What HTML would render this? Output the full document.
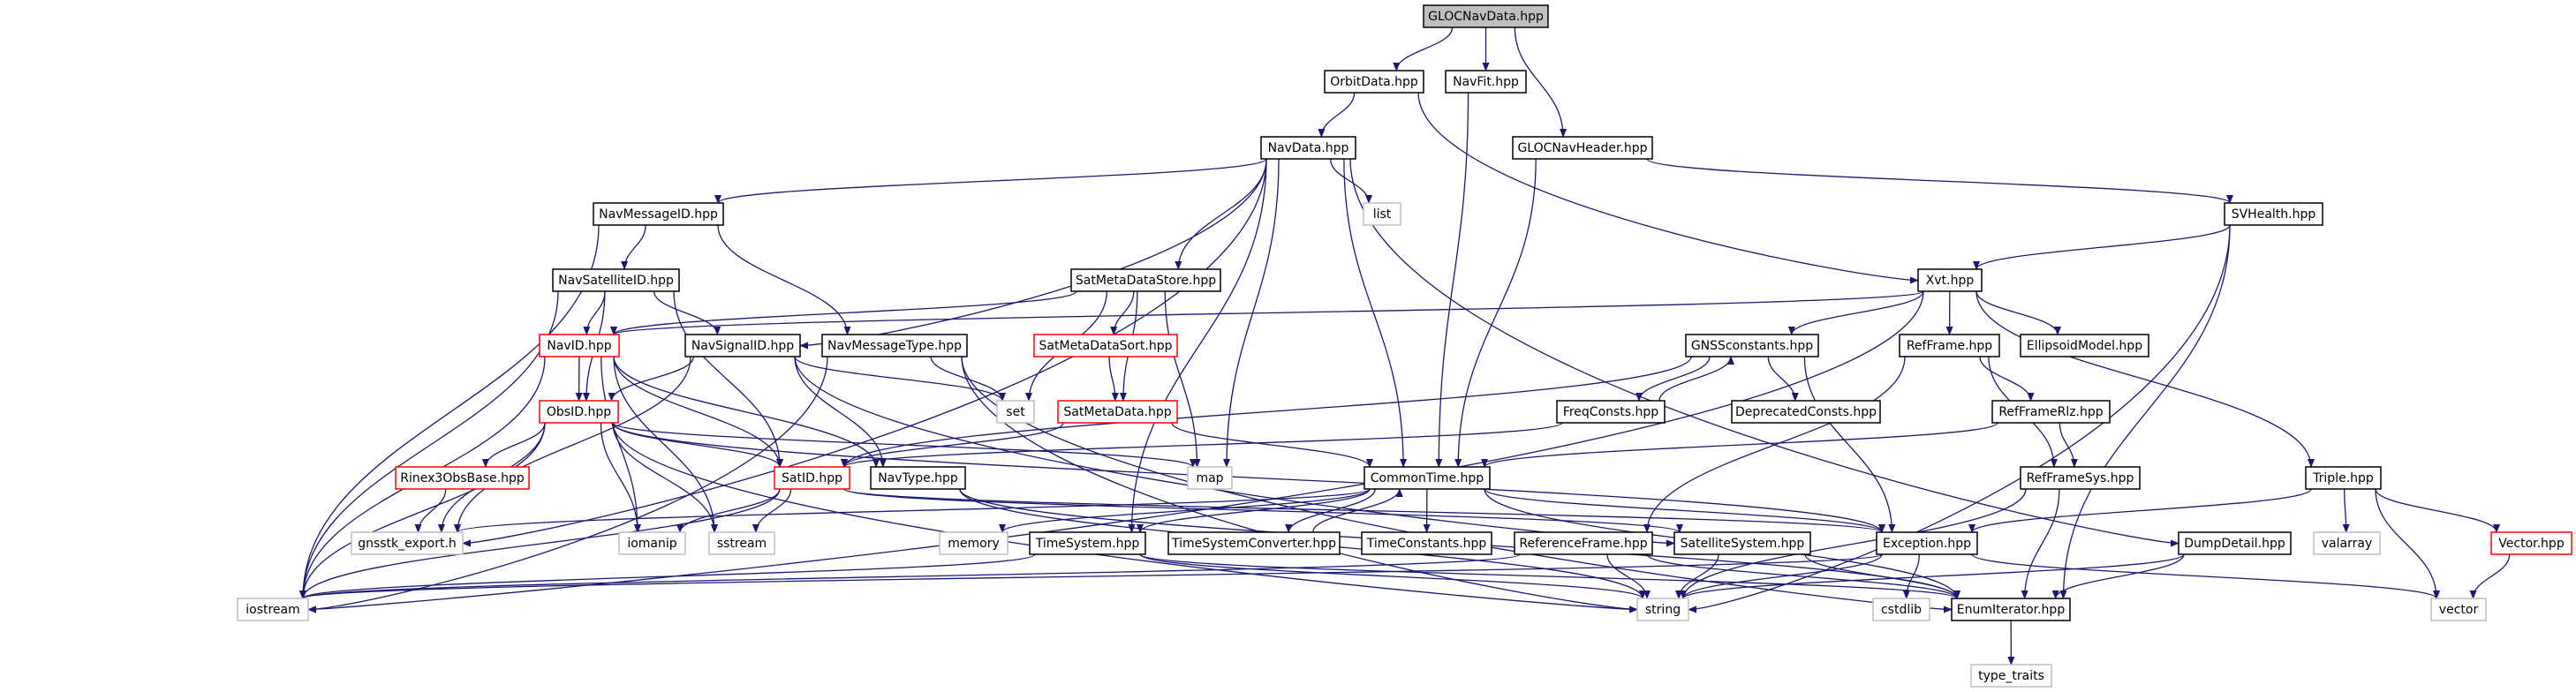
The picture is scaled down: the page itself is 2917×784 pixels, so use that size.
<!DOCTYPE html>
<html><head><meta charset="utf-8"><style>
html,body{margin:0;padding:0;background:#fff;}
svg{display:block;}
text{font-family:"DejaVu Sans","Liberation Sans",sans-serif;font-size:14px;fill:#000;}
</style></head><body>
<svg id="g" width="2917" height="784" viewBox="0 0 2917 784" xmlns="http://www.w3.org/2000/svg">
<defs><marker id="ah" markerWidth="10" markerHeight="8" refX="9" refY="4" orient="auto" markerUnits="userSpaceOnUse"><path d="M0,0 L10,4 L0,8 Z" fill="#191970"/></marker></defs>
<g id="edges" fill="none" stroke="#191970" stroke-width="1.3"></g>
<g id="nodes">
<rect x="1612" y="6" width="141" height="25" fill="#bfbfbf" stroke="#000" stroke-width="1.5"/><text x="1682.5" y="23" text-anchor="middle">GLOCNavData.hpp</text>
<rect x="1500" y="80" width="112" height="25" fill="#fff" stroke="#000" stroke-width="1.5"/><text x="1556" y="97" text-anchor="middle">OrbitData.hpp</text>
<rect x="1637" y="80" width="91" height="25" fill="#fff" stroke="#000" stroke-width="1.5"/><text x="1682.5" y="97" text-anchor="middle">NavFit.hpp</text>
<rect x="1428" y="155" width="107" height="25" fill="#fff" stroke="#000" stroke-width="1.5"/><text x="1481.5" y="172" text-anchor="middle">NavData.hpp</text>
<rect x="1713" y="155" width="158" height="25" fill="#fff" stroke="#000" stroke-width="1.5"/><text x="1792" y="172" text-anchor="middle">GLOCNavHeader.hpp</text>
<rect x="672" y="230" width="147" height="25" fill="#fff" stroke="#000" stroke-width="1.5"/><text x="745.5" y="247" text-anchor="middle">NavMessageID.hpp</text>
<rect x="1544" y="230" width="42" height="25" fill="#fff" stroke="#bfbfbf" stroke-width="1.5"/><text x="1565" y="247" text-anchor="middle" style="fill:#000">list</text>
<rect x="2519" y="230" width="111" height="25" fill="#fff" stroke="#000" stroke-width="1.5"/><text x="2574.5" y="247" text-anchor="middle">SVHealth.hpp</text>
<rect x="626" y="305" width="143" height="25" fill="#fff" stroke="#000" stroke-width="1.5"/><text x="697.5" y="322" text-anchor="middle">NavSatelliteID.hpp</text>
<rect x="1213" y="305" width="169" height="25" fill="#fff" stroke="#000" stroke-width="1.5"/><text x="1297.5" y="322" text-anchor="middle">SatMetaDataStore.hpp</text>
<rect x="2172" y="305" width="72" height="25" fill="#fff" stroke="#000" stroke-width="1.5"/><text x="2208" y="322" text-anchor="middle">Xvt.hpp</text>
<rect x="611" y="379" width="90" height="25" fill="#fff" stroke="#ff0000" stroke-width="1.5"/><text x="656" y="396" text-anchor="middle">NavID.hpp</text>
<rect x="776" y="379" width="130" height="25" fill="#fff" stroke="#000" stroke-width="1.5"/><text x="841" y="396" text-anchor="middle">NavSignalID.hpp</text>
<rect x="931" y="379" width="164" height="25" fill="#fff" stroke="#000" stroke-width="1.5"/><text x="1013" y="396" text-anchor="middle">NavMessageType.hpp</text>
<rect x="1171" y="379" width="162" height="25" fill="#fff" stroke="#ff0000" stroke-width="1.5"/><text x="1252" y="396" text-anchor="middle">SatMetaDataSort.hpp</text>
<rect x="1909" y="379" width="150" height="25" fill="#fff" stroke="#000" stroke-width="1.5"/><text x="1984" y="396" text-anchor="middle">GNSSconstants.hpp</text>
<rect x="2151" y="379" width="113" height="25" fill="#fff" stroke="#000" stroke-width="1.5"/><text x="2207.5" y="396" text-anchor="middle">RefFrame.hpp</text>
<rect x="2288" y="379" width="145" height="25" fill="#fff" stroke="#000" stroke-width="1.5"/><text x="2360.5" y="396" text-anchor="middle">EllipsoidModel.hpp</text>
<rect x="611" y="454" width="89" height="25" fill="#fff" stroke="#ff0000" stroke-width="1.5"/><text x="655.5" y="471" text-anchor="middle">ObsID.hpp</text>
<rect x="1129" y="454" width="42" height="25" fill="#fff" stroke="#bfbfbf" stroke-width="1.5"/><text x="1150" y="471" text-anchor="middle">set</text>
<rect x="1198" y="454" width="135" height="25" fill="#fff" stroke="#ff0000" stroke-width="1.5"/><text x="1265.5" y="471" text-anchor="middle">SatMetaData.hpp</text>
<rect x="1763" y="454" width="122" height="25" fill="#fff" stroke="#000" stroke-width="1.5"/><text x="1824" y="471" text-anchor="middle">FreqConsts.hpp</text>
<rect x="1961" y="454" width="168" height="25" fill="#fff" stroke="#000" stroke-width="1.5"/><text x="2045" y="471" text-anchor="middle">DeprecatedConsts.hpp</text>
<rect x="2256" y="454" width="133" height="25" fill="#fff" stroke="#000" stroke-width="1.5"/><text x="2322.5" y="471" text-anchor="middle">RefFrameRlz.hpp</text>
<rect x="448" y="529" width="151" height="25" fill="#fff" stroke="#ff0000" stroke-width="1.5"/><text x="523.5" y="546" text-anchor="middle">Rinex3ObsBase.hpp</text>
<rect x="877" y="529" width="85" height="25" fill="#fff" stroke="#ff0000" stroke-width="1.5"/><text x="919.5" y="546" text-anchor="middle">SatID.hpp</text>
<rect x="986" y="529" width="107" height="25" fill="#fff" stroke="#000" stroke-width="1.5"/><text x="1039.5" y="546" text-anchor="middle">NavType.hpp</text>
<rect x="1345" y="529" width="50" height="25" fill="#fff" stroke="#bfbfbf" stroke-width="1.5"/><text x="1370" y="546" text-anchor="middle">map</text>
<rect x="1545" y="529" width="142" height="25" fill="#fff" stroke="#000" stroke-width="1.5"/><text x="1616" y="546" text-anchor="middle">CommonTime.hpp</text>
<rect x="2288" y="529" width="135" height="25" fill="#fff" stroke="#000" stroke-width="1.5"/><text x="2355.5" y="546" text-anchor="middle">RefFrameSys.hpp</text>
<rect x="2611" y="529" width="85" height="25" fill="#fff" stroke="#000" stroke-width="1.5"/><text x="2653.5" y="546" text-anchor="middle">Triple.hpp</text>
<rect x="398" y="603" width="126" height="25" fill="#fff" stroke="#bfbfbf" stroke-width="1.5"/><text x="461" y="620" text-anchor="middle">gnsstk_export.h</text>
<rect x="701" y="603" width="75" height="25" fill="#fff" stroke="#bfbfbf" stroke-width="1.5"/><text x="738.5" y="620" text-anchor="middle">iomanip</text>
<rect x="803" y="603" width="74" height="25" fill="#fff" stroke="#bfbfbf" stroke-width="1.5"/><text x="840" y="620" text-anchor="middle">sstream</text>
<rect x="1064" y="603" width="77" height="25" fill="#fff" stroke="#bfbfbf" stroke-width="1.5"/><text x="1102.5" y="620" text-anchor="middle">memory</text>
<rect x="1166" y="603" width="131" height="25" fill="#fff" stroke="#000" stroke-width="1.5"/><text x="1231.5" y="620" text-anchor="middle">TimeSystem.hpp</text>
<rect x="1323" y="603" width="194" height="25" fill="#fff" stroke="#000" stroke-width="1.5"/><text x="1420" y="620" text-anchor="middle">TimeSystemConverter.hpp</text>
<rect x="1542" y="603" width="147" height="25" fill="#fff" stroke="#000" stroke-width="1.5"/><text x="1615.5" y="620" text-anchor="middle">TimeConstants.hpp</text>
<rect x="1715" y="603" width="156" height="25" fill="#fff" stroke="#000" stroke-width="1.5"/><text x="1793" y="620" text-anchor="middle">ReferenceFrame.hpp</text>
<rect x="1896" y="603" width="154" height="25" fill="#fff" stroke="#000" stroke-width="1.5"/><text x="1973" y="620" text-anchor="middle">SatelliteSystem.hpp</text>
<rect x="2125" y="603" width="114" height="25" fill="#fff" stroke="#000" stroke-width="1.5"/><text x="2182" y="620" text-anchor="middle">Exception.hpp</text>
<rect x="2467" y="603" width="127" height="25" fill="#fff" stroke="#000" stroke-width="1.5"/><text x="2530.5" y="620" text-anchor="middle">DumpDetail.hpp</text>
<rect x="2620" y="603" width="75" height="25" fill="#fff" stroke="#bfbfbf" stroke-width="1.5"/><text x="2657.5" y="620" text-anchor="middle">valarray</text>
<rect x="2821" y="603" width="91" height="25" fill="#fff" stroke="#ff0000" stroke-width="1.5"/><text x="2866.5" y="620" text-anchor="middle">Vector.hpp</text>
<rect x="269" y="678" width="80" height="25" fill="#fff" stroke="#bfbfbf" stroke-width="1.5"/><text x="309" y="695" text-anchor="middle">iostream</text>
<rect x="1854" y="678" width="58" height="25" fill="#fff" stroke="#bfbfbf" stroke-width="1.5"/><text x="1883" y="695" text-anchor="middle">string</text>
<rect x="2121" y="678" width="64" height="25" fill="#fff" stroke="#bfbfbf" stroke-width="1.5"/><text x="2153" y="695" text-anchor="middle">cstdlib</text>
<rect x="2210" y="678" width="134" height="25" fill="#fff" stroke="#000" stroke-width="1.5"/><text x="2277" y="695" text-anchor="middle">EnumIterator.hpp</text>
<rect x="2753" y="678" width="62" height="25" fill="#fff" stroke="#bfbfbf" stroke-width="1.5"/><text x="2784" y="695" text-anchor="middle">vector</text>
<rect x="2232" y="753" width="91" height="25" fill="#fff" stroke="#bfbfbf" stroke-width="1.5"/><text x="2277.5" y="770" text-anchor="middle">type_traits</text>
</g>
</svg>
<script>
var N={};
document.querySelectorAll('#nodes rect').forEach(function(r){
  var t=r.nextElementSibling.textContent;
  var x=+r.getAttribute('x'),y=+r.getAttribute('y'),w=+r.getAttribute('width'),h=+r.getAttribute('height');
  N[t]={x:x,y:y,w:w,h:h,cx:x+w/2,cy:y+h/2};
});
var E=[
["GLOCNavData.hpp","OrbitData.hpp"],["GLOCNavData.hpp","NavFit.hpp"],["GLOCNavData.hpp","GLOCNavHeader.hpp"],
["OrbitData.hpp","NavData.hpp"],["OrbitData.hpp","Xvt.hpp"],["NavFit.hpp","CommonTime.hpp"],
["GLOCNavHeader.hpp","CommonTime.hpp"],["GLOCNavHeader.hpp","SVHealth.hpp"],
["NavData.hpp","NavMessageID.hpp"],["NavData.hpp","gnsstk_export.h"],["NavData.hpp","NavSignalID.hpp"],["NavData.hpp","SatMetaDataStore.hpp"],["NavData.hpp","list"],["NavData.hpp","map"],["NavData.hpp","CommonTime.hpp"],["NavData.hpp","TimeSystem.hpp"],["NavData.hpp","DumpDetail.hpp"],
["NavMessageID.hpp","iostream"],["NavMessageID.hpp","NavSatelliteID.hpp"],["NavMessageID.hpp","NavMessageType.hpp"],
["NavSatelliteID.hpp","iostream"],["NavSatelliteID.hpp","NavID.hpp"],["NavSatelliteID.hpp","ObsID.hpp"],["NavSatelliteID.hpp","SatID.hpp"],["NavSatelliteID.hpp","NavSignalID.hpp"],
["SatMetaDataStore.hpp","NavID.hpp"],["SatMetaDataStore.hpp","set"],["SatMetaDataStore.hpp","SatMetaDataSort.hpp"],["SatMetaDataStore.hpp","SatMetaData.hpp"],["SatMetaDataStore.hpp","map"],
["SVHealth.hpp","Xvt.hpp"],["SVHealth.hpp","string"],["SVHealth.hpp","EnumIterator.hpp"],
["Xvt.hpp","NavID.hpp"],["Xvt.hpp","GNSSconstants.hpp"],["Xvt.hpp","RefFrame.hpp"],["Xvt.hpp","EllipsoidModel.hpp"],["Xvt.hpp","Triple.hpp"],["Xvt.hpp","iostream"],
["NavID.hpp","ObsID.hpp"],["NavID.hpp","SatID.hpp"],["NavID.hpp","NavType.hpp"],["NavID.hpp","iostream"],["NavID.hpp","iomanip"],["NavID.hpp","sstream"],
["NavSignalID.hpp","ObsID.hpp"],["NavSignalID.hpp","set"],["NavSignalID.hpp","NavType.hpp"],["NavSignalID.hpp","SatelliteSystem.hpp"],["NavSignalID.hpp","gnsstk_export.h"],
["NavMessageType.hpp","set"],["NavMessageType.hpp","string"],["NavMessageType.hpp","EnumIterator.hpp"],["NavMessageType.hpp","iostream"],
["SatMetaDataSort.hpp","SatMetaData.hpp"],["SatMetaData.hpp","SatID.hpp"],["SatMetaData.hpp","CommonTime.hpp"],
["GNSSconstants.hpp","FreqConsts.hpp"],["GNSSconstants.hpp","DeprecatedConsts.hpp"],["GNSSconstants.hpp","Exception.hpp"],["GNSSconstants.hpp","SatID.hpp"],
["FreqConsts.hpp","GNSSconstants.hpp"],["FreqConsts.hpp","SatID.hpp"],
["RefFrame.hpp","RefFrameRlz.hpp"],["RefFrame.hpp","RefFrameSys.hpp"],["RefFrame.hpp","ReferenceFrame.hpp"],
["RefFrameRlz.hpp","RefFrameSys.hpp"],["RefFrameRlz.hpp","CommonTime.hpp"],
["Triple.hpp","Exception.hpp"],["Triple.hpp","valarray"],["Triple.hpp","vector"],["Triple.hpp","Vector.hpp"],
["ObsID.hpp","Rinex3ObsBase.hpp"],["ObsID.hpp","SatID.hpp"],["ObsID.hpp","gnsstk_export.h"],["ObsID.hpp","iostream"],["ObsID.hpp","iomanip"],["ObsID.hpp","sstream"],["ObsID.hpp","map"],["ObsID.hpp","Exception.hpp"],["ObsID.hpp","string"],
["SatID.hpp","iomanip"],["SatID.hpp","sstream"],["SatID.hpp","iostream"],["SatID.hpp","SatelliteSystem.hpp"],["SatID.hpp","Exception.hpp"],
["NavType.hpp","string"],["NavType.hpp","EnumIterator.hpp"],
["CommonTime.hpp","TimeConstants.hpp"],["CommonTime.hpp","TimeSystem.hpp"],["CommonTime.hpp","TimeSystemConverter.hpp"],["CommonTime.hpp","memory"],["CommonTime.hpp","Exception.hpp"],["CommonTime.hpp","gnsstk_export.h"],["CommonTime.hpp","EnumIterator.hpp"],
["TimeSystemConverter.hpp","CommonTime.hpp"],
["TimeSystem.hpp","iostream"],["TimeSystem.hpp","string"],["TimeSystem.hpp","EnumIterator.hpp"],
["ReferenceFrame.hpp","iostream"],["ReferenceFrame.hpp","string"],["ReferenceFrame.hpp","EnumIterator.hpp"],
["SatelliteSystem.hpp","string"],["SatelliteSystem.hpp","EnumIterator.hpp"],
["Exception.hpp","string"],["Exception.hpp","cstdlib"],["Exception.hpp","vector"],["Exception.hpp","iostream"],
["DumpDetail.hpp","string"],["DumpDetail.hpp","EnumIterator.hpp"],
["RefFrameSys.hpp","string"],["RefFrameSys.hpp","EnumIterator.hpp"],
["EnumIterator.hpp","type_traits"],["Vector.hpp","vector"],["Rinex3ObsBase.hpp","gnsstk_export.h"]
];
function cl(v,a,b){return Math.max(a,Math.min(b,v));}
var g=document.getElementById('edges'),s='';
E.forEach(function(e){
  var a=N[e[0]],b=N[e[1]];if(!a||!b)return;
  var d;
  if(Math.abs(a.cy-b.cy)<5){
    var l=a.cx<b.cx;
    var sx=l?a.x+a.w:a.x, tx=l?b.x:b.x+b.w;
    d='M'+sx+','+a.cy+' L'+tx+','+b.cy;
  } else if(b.cy>a.cy){
    var sx=cl(a.cx+(b.cx-a.cx)*0.3,a.x+6,a.x+a.w-6), sy=a.y+a.h;
    var tx=cl(b.cx+(a.cx-b.cx)*0.2,b.x+6,b.x+b.w-6), ty=b.y;
    var dy=ty-sy;
    if(Math.abs(b.cx-a.cx)>600 && dy>150){
      var l2=a.cx>b.cx; tx=l2?b.x+b.w:b.x; ty=b.cy;
      d='M'+sx+','+sy+' C'+sx+','+(sy+dy*0.6)+' '+(tx+(l2?60:-60))+','+ty+' '+tx+','+ty;
    } else
    d='M'+sx+','+sy+' C'+sx+','+(sy+dy*0.45)+' '+tx+','+(ty-dy*0.45)+' '+tx+','+ty;
  } else {
    var sx=cl(a.cx+(b.cx-a.cx)*0.3+8,a.x+6,a.x+a.w-6), sy=a.y;
    var tx=cl(b.cx+(a.cx-b.cx)*0.2+8,b.x+6,b.x+b.w-6), ty=b.y+b.h;
    var dy=ty-sy;
    d='M'+sx+','+sy+' C'+sx+','+(sy+dy*0.45)+' '+tx+','+(ty-dy*0.45)+' '+tx+','+ty;
  }
  s+='<path d="'+d+'" marker-end="url(#ah)"/>';
});
g.innerHTML=s;
</script>
</body></html>
